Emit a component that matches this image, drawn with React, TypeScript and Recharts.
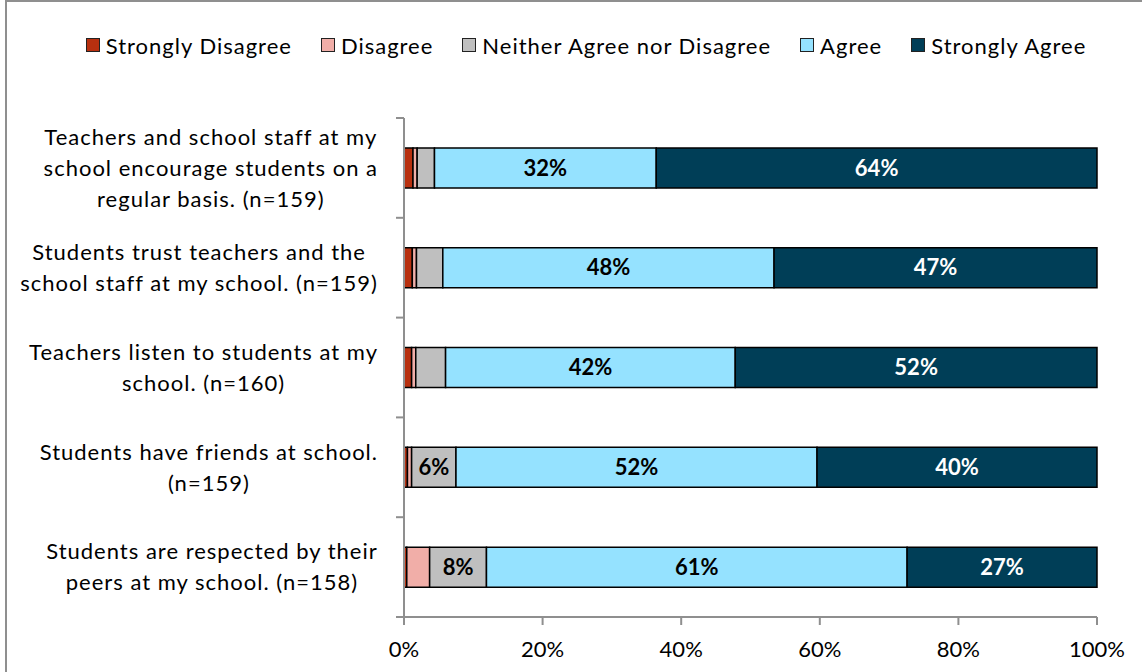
import React from 'react';
import { BarChart, Bar, XAxis, YAxis, Legend, LabelList } from 'recharts';

const categories = [
  'Teachers and school staff at my\nschool encourage students on a\nregular basis. (n=159)',
  'Students trust teachers and the\nschool staff at my school. (n=159)',
  'Teachers listen to students at my\nschool. (n=160)',
  'Students have friends at school.\n(n=159)',
  'Students are respected by their\npeers at my school. (n=158)',
];

const stronglyDisagree = [1.3, 1.2, 1.1, 0.5, 0.4];
const disagree = [0.6, 0.6, 0.6, 0.6, 3.3];
const neither = [2.5, 3.8, 4.3, 6.4, 8.2];
const agree = [32, 47.8, 41.8, 52.1, 60.7];
const stronglyAgree = [63.6, 46.6, 52.2, 40.4, 27.4];

const xTicks = [0, 20, 40, 60, 80, 100];

const series = [
  { key: 'sd', name: 'Strongly Disagree', values: stronglyDisagree, color: '#B8300F', text: '#000' },
  { key: 'd', name: 'Disagree', values: disagree, color: '#F1AEA8', text: '#000' },
  { key: 'n', name: 'Neither Agree nor Disagree', values: neither, color: '#BFBFBF', text: '#000' },
  { key: 'a', name: 'Agree', values: agree, color: '#95E2FF', text: '#000' },
  { key: 'sa', name: 'Strongly Agree', values: stronglyAgree, color: '#003E57', text: '#fff' },
];

const data = categories.map((name, i) => {
  const row: Record<string, any> = { name };
  series.forEach(s => { row[s.key] = s.values[i]; });
  return row;
});

const FONT = 'Lato, "Liberation Sans", sans-serif';
const W = 1142;
const H = 672;
const PLOT_LEFT = 404;
const PLOT_TOP = 118;
const PLOT_BOTTOM = 617;
const BAND = (PLOT_BOTTOM - PLOT_TOP) / categories.length;
const AXIS = '#8f8f8f';
const SPACING = 1;

let ctx: CanvasRenderingContext2D | null = null;
const measure = (t: string) => {
  if (!ctx) {
    ctx = document.createElement('canvas').getContext('2d');
  }
  if (!ctx) return t.length * 11;
  ctx.font = '22px Lato';
  return ctx.measureText(t).width + t.length * SPACING;
};

const CategoryTick = (props: any) => {
  const { y, payload, index } = props;
  const lines: string[] = String(payload.value).split('\n');
  const blockW = Math.max(...lines.map(measure));
  const cx = PLOT_LEFT - 26 - blockW / 2;
  const lh = 31;
  const y0 = y - ((lines.length - 1) * lh) / 2;
  return (
    <g>
      <line x1={PLOT_LEFT - 8} x2={PLOT_LEFT} y1={y - BAND / 2} y2={y - BAND / 2} stroke={AXIS} strokeWidth={2} />
      {index === categories.length - 1 && (
        <line x1={PLOT_LEFT - 8} x2={PLOT_LEFT} y1={y + BAND / 2} y2={y + BAND / 2} stroke={AXIS} strokeWidth={2} />
      )}
      {lines.map((l, i) => (
        <text key={i} x={cx} y={y0 + i * lh} dy="0.35em" textAnchor="middle" fontSize={22} letterSpacing={SPACING} fontFamily={FONT} fill="#000">
          {l}
        </text>
      ))}
    </g>
  );
};

const makeLabel = (color: string) => (props: any) => {
  const { x, y, width, height, value } = props;
  if (value < 5) return null;
  return (
    <text x={x + width / 2} y={y + height / 2} dy="0.35em" textAnchor="middle" fontSize={22} fontWeight="bold" fontFamily={FONT} fill={color}>
      {Math.round(value)}%
    </text>
  );
};

const LegendContent = () => (
  <div style={{ display: 'flex', justifyContent: 'center', alignItems: 'center', height: 40, fontFamily: FONT, fontSize: 22, letterSpacing: SPACING, color: '#000' }}>
    {series.map((s, i) => (
      <div key={s.key} style={{ display: 'flex', alignItems: 'center', marginRight: i < series.length - 1 ? 29 : 0 }}>
        <span style={{ display: 'inline-block', width: 12, height: 12, background: s.color, border: '1px solid #222', marginRight: 6 }} />
        <span>{s.name}</span>
      </div>
    ))}
  </div>
);

export default function App() {
  return (
    <div style={{ position: 'absolute', left: 0, top: 0, width: W, height: H, background: '#fff' }}>
      <div style={{ position: 'absolute', left: 5, top: 0, width: W - 5, height: H, borderTop: `2px solid ${AXIS}`, borderLeft: `2px solid ${AXIS}`, boxSizing: 'border-box' }} />
      <BarChart
        width={W}
        height={H}
        data={data}
        layout="vertical"
        barCategoryGap="30%"
        margin={{ top: PLOT_TOP - 40, right: W - 1097, bottom: 15, left: 24 }}
      >
        <Legend verticalAlign="top" content={<LegendContent />} wrapperStyle={{ top: 25, left: 20, width: W - 10 }} />
        <XAxis
          type="number"
          domain={[0, 100]}
          ticks={xTicks}
          tickFormatter={v => `${v}%`}
          height={40}
          stroke={AXIS}
          strokeWidth={2}
          tickSize={8}
          tickMargin={16}
          tick={{ fill: '#000', fontSize: 22, fontFamily: FONT }}
          interval={0}
        />
        <YAxis
          type="category"
          dataKey="name"
          width={380}
          stroke={AXIS}
          strokeWidth={2}
          tickLine={false}
          tick={<CategoryTick />}
          interval={0}
        />
        {series.map(s => (
          <Bar key={s.key} dataKey={s.key} name={s.name} stackId="a" fill={s.color} stroke="#000" strokeWidth={1.5} isAnimationActive={false}>
            <LabelList dataKey={s.key} content={makeLabel(s.text)} />
          </Bar>
        ))}
      </BarChart>
    </div>
  );
}
